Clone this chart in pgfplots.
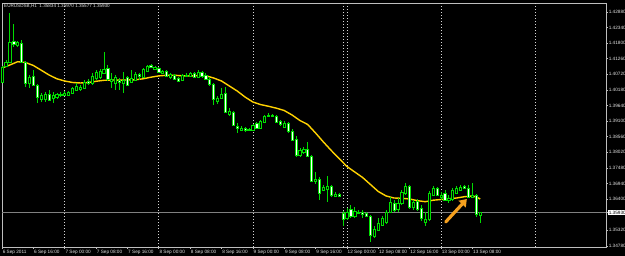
\documentclass[border=0pt]{standalone}
\usepackage{fontspec}
\setmainfont{Liberation Sans}
\usepackage{pgfplots}
\usepackage{pgfplotstable}
\pgfplotsset{compat=1.18}
\usetikzlibrary{arrows.meta}
\definecolor{cgreen}{RGB}{0,220,0}
\definecolor{maline}{RGB}{255,210,0}
\definecolor{framegray}{RGB}{190,190,190}
\definecolor{sepgray}{RGB}{215,215,215}
\definecolor{bidgray}{RGB}{128,128,128}
\definecolor{lblgray}{RGB}{225,225,225}
\definecolor{arroworange}{RGB}{245,160,30}
\newcommand\lbl{\fontsize{4.7}{5.6}\selectfont}
\newcommand\hdr{\fontsize{4.6}{5.5}\selectfont}

\pgfdeclareplotmark{candle}{%
  \pgfpathmoveto{\pgfpoint{0pt}{\candleL pt}}%
  \pgfpathlineto{\pgfpoint{0pt}{\candleH pt}}%
  \pgfusepath{stroke}%
  \pgfpathrectanglecorners{\pgfpoint{-1.1pt}{0pt}}{\pgfpoint{1.1pt}{\candleC pt}}%
  \pgfusepath{fill,stroke}%
}

\pgfplotstableread{
i O H L C
-16 1.40457 1.41010 1.40422 1.40976
-15 1.41010 1.41218 1.40976 1.41149
-14 1.41149 1.42845 1.41114 1.41841
-12 1.41737 1.41876 1.41668 1.41841
-9 1.40422 1.40699 1.40249 1.40630
-6 1.39868 1.40076 1.39764 1.40007
-5 1.39868 1.40111 1.39764 1.40041
-3 1.39903 1.40111 1.39730 1.40007
-2 1.39937 1.40076 1.39868 1.40041
0 1.40007 1.40145 1.39972 1.40076
1 1.40007 1.40145 1.39972 1.40111
2 1.40076 1.40284 1.40041 1.40249
3 1.40180 1.40422 1.40145 1.40318
4 1.40214 1.40353 1.40145 1.40284
5 1.40249 1.40526 1.40214 1.40457
7 1.40422 1.40768 1.40353 1.40664
8 1.40595 1.40872 1.40526 1.40803
9 1.40630 1.40907 1.40560 1.40837
10 1.40768 1.41495 1.40734 1.40907
12 1.40491 1.40768 1.40249 1.40560
13 1.40422 1.40699 1.40180 1.40630
15 1.40422 1.40803 1.40076 1.40526
17 1.40457 1.40872 1.40422 1.40595
18 1.40526 1.40803 1.40491 1.40734
20 1.40630 1.40941 1.40595 1.40907
21 1.40837 1.41045 1.40803 1.41010
23 1.40907 1.41010 1.40872 1.40976
25 1.40768 1.40872 1.40734 1.40837
27 1.40630 1.40768 1.40560 1.40734
30 1.40526 1.40734 1.40491 1.40699
31 1.40664 1.40768 1.40630 1.40699
32 1.40664 1.40803 1.40630 1.40768
34 1.40630 1.40872 1.40595 1.40803
39 1.39799 1.39972 1.39695 1.39903
40 1.39903 1.40249 1.39868 1.40041
42 1.39349 1.39557 1.39280 1.39453
45 1.38795 1.38934 1.38761 1.38864
47 1.38795 1.38864 1.38761 1.38830
48 1.38795 1.39003 1.38761 1.38968
50 1.38864 1.39141 1.38830 1.39107
51 1.39072 1.39314 1.39037 1.39280
52 1.39280 1.39384 1.39245 1.39314
56 1.38899 1.39107 1.38864 1.39037
60 1.37930 1.38172 1.37861 1.38103
61 1.38034 1.38207 1.37964 1.38138
64 1.37030 1.37341 1.36926 1.37099
66 1.36718 1.36891 1.36684 1.36822
67 1.36753 1.37203 1.36303 1.36857
69 1.36511 1.36649 1.36476 1.36580
72 1.35749 1.36095 1.35680 1.35957
74 1.35818 1.36130 1.35749 1.35991
75 1.35922 1.36026 1.35888 1.35957
79 1.35126 1.35472 1.35057 1.35368
80 1.35334 1.35749 1.35299 1.35576
81 1.35507 1.35818 1.35472 1.35749
82 1.35611 1.36026 1.35541 1.35957
83 1.35957 1.36476 1.35922 1.36303
85 1.36061 1.36441 1.35957 1.36268
86 1.36268 1.36718 1.36199 1.36649
87 1.36614 1.36961 1.36545 1.36857
89 1.36130 1.36372 1.36026 1.36303
92 1.35611 1.35957 1.35472 1.35715
93 1.35715 1.36684 1.35645 1.36614
94 1.36545 1.36857 1.36511 1.36788
96 1.36476 1.36649 1.36372 1.36545
98 1.36372 1.36545 1.36268 1.36441
99 1.36407 1.36788 1.36338 1.36718
100 1.36614 1.36857 1.36580 1.36788
101 1.36718 1.36891 1.36684 1.36822
104 1.36476 1.36961 1.36441 1.36545
106 1.35834 1.35970 1.35577 1.35930
}\bulls

\pgfplotstableread{
i O H L C
-13 1.41876 1.42464 1.41668 1.41772
-11 1.41807 1.41910 1.41114 1.41149
-10 1.41149 1.41184 1.40284 1.40422
-8 1.40664 1.40872 1.40318 1.40353
-7 1.40353 1.40387 1.39730 1.39937
-4 1.40041 1.40180 1.39799 1.39834
-1 1.40041 1.40111 1.39937 1.40007
6 1.40491 1.40560 1.40353 1.40422
11 1.40941 1.41045 1.40491 1.40560
14 1.40526 1.40595 1.40180 1.40457
16 1.40630 1.40664 1.40318 1.40353
19 1.40734 1.40768 1.40526 1.40664
22 1.41045 1.41080 1.40941 1.40976
24 1.40941 1.40976 1.40768 1.40803
26 1.40837 1.40872 1.40630 1.40664
28 1.40699 1.40734 1.40526 1.40560
29 1.40595 1.40630 1.40457 1.40491
33 1.40768 1.40803 1.40595 1.40630
35 1.40803 1.40837 1.40595 1.40664
36 1.40699 1.40768 1.40526 1.40560
37 1.40560 1.40630 1.40318 1.40387
38 1.40387 1.40422 1.39661 1.39868
41 1.40076 1.40284 1.39384 1.39418
43 1.39418 1.39453 1.38934 1.38968
44 1.38934 1.39037 1.38691 1.38864
46 1.38864 1.38899 1.38726 1.38795
49 1.39037 1.39072 1.38830 1.38864
53 1.39314 1.39349 1.39245 1.39280
54 1.39280 1.39314 1.39037 1.39072
55 1.39107 1.39141 1.38934 1.39003
57 1.39037 1.39072 1.38691 1.38761
58 1.38761 1.38830 1.38414 1.38449
59 1.38484 1.38587 1.37861 1.37930
62 1.38138 1.38380 1.37861 1.37895
63 1.37895 1.37930 1.36995 1.37030
65 1.37099 1.37168 1.36372 1.36614
68 1.36857 1.36891 1.36476 1.36545
70 1.36580 1.36614 1.36476 1.36511
71 1.35922 1.35991 1.35472 1.35715
73 1.36061 1.36199 1.35749 1.35818
76 1.35957 1.36026 1.35749 1.35888
77 1.35922 1.35957 1.35784 1.35818
78 1.35818 1.35853 1.34918 1.35161
84 1.36268 1.36372 1.35957 1.36026
88 1.36857 1.36891 1.36061 1.36130
90 1.36338 1.36407 1.35991 1.36061
91 1.36095 1.36199 1.35645 1.35749
95 1.36788 1.36822 1.36511 1.36545
97 1.36614 1.36718 1.36338 1.36372
102 1.36857 1.36891 1.36753 1.36788
103 1.36788 1.36891 1.36441 1.36476
105 1.36545 1.36580 1.35784 1.35888
}\bears

\pgfplotstableread{
i M
-16 1.40941
-14 1.41045
-12 1.41159
-10 1.41132
-8 1.41028
-6 1.40865
-4 1.40699
-2 1.40567
0 1.40491
2 1.40439
4 1.40422
6 1.40436
8 1.40481
10 1.40515
12 1.40526
14 1.40519
16 1.40526
18 1.40533
20 1.40567
22 1.40623
24 1.40668
26 1.40689
28 1.40689
30 1.40671
32 1.40664
34 1.40675
36 1.40671
38 1.40595
40 1.40491
42 1.40318
44 1.40145
46 1.39937
48 1.39764
50 1.39674
52 1.39616
54 1.39550
56 1.39470
58 1.39314
60 1.39124
62 1.38986
64 1.38691
66 1.38380
68 1.38086
70 1.37809
72 1.37532
74 1.37341
76 1.37151
78 1.36909
80 1.36666
82 1.36511
84 1.36441
86 1.36431
88 1.36407
90 1.36348
92 1.36313
94 1.36365
96 1.36389
98 1.36414
100 1.36441
102 1.36486
104 1.36511
105 1.36476
106 1.36407
}\ma

\begin{document}
\begin{tikzpicture}
\fill[black] (0,0) rectangle (625pt,256pt);
\useasboundingbox (0,0) rectangle (625pt,256pt);
\begin{axis}[
  at={(2pt,9pt)}, anchor=south west,
  scale only axis, width=604pt, height=244pt,
  xmin=-16.0, xmax=138.1, ymin=1.34745, ymax=1.43191,
  axis line style={framegray, line width=0.8pt},
  tick align=outside, major tick length=2pt,
  tick style={framegray, line width=0.6pt},
  xtick pos=left, ytick pos=right, yticklabel pos=right,
  xtick={-16,-8,0,8,16,24,32,40,48,56,64,72,80,88,96,104},
  xticklabels={6 Sep 2011, 6 Sep 16:00, 7 Sep 00:00, 7 Sep 08:00, 7 Sep 16:00, 8 Sep 00:00, 8 Sep 08:00, 8 Sep 16:00, 9 Sep 00:00, 9 Sep 08:00, 9 Sep 16:00, 12 Sep 00:00, 12 Sep 08:00, 12 Sep 16:00, 13 Sep 00:00, 13 Sep 08:00},
  ytick={1.3478,1.3532,1.3640,1.3694,1.3748,1.3802,1.3856,1.3910,1.3964,1.4018,1.4072,1.4126,1.4180,1.4234,1.4288},
  yticklabels={1.34780,1.35320,1.36400,1.36940,1.37480,1.38020,1.38560,1.39100,1.39640,1.40180,1.40720,1.41260,1.41800,1.42340,1.42880},
  tick label style={font=\lbl, text=lblgray, inner sep=0.6pt},
  xticklabel style={anchor=west, yshift=-3pt},
  yticklabel style={anchor=west},
  extra x ticks={0,24,48,71,72,96,120},
  extra x tick labels={},
  extra x tick style={grid=major, major grid style={sepgray, line width=0.6pt, dash pattern=on 1pt off 2pt}, major tick length=0pt},
  extra y ticks={1.3593},
  extra y tick labels={1.35930},
  extra y tick style={grid=major, major grid style={bidgray, line width=0.7pt}, yticklabel style={fill=white, text=black}},
]
\addplot[scatter, only marks, mark=candle, point meta=y,
  scatter/use mapped color={draw=cgreen, fill=black, line width=0.7pt},
  visualization depends on={(\thisrow{L}-\thisrow{O})*2889 \as \candleL},
  visualization depends on={(\thisrow{H}-\thisrow{O})*2889 \as \candleH},
  visualization depends on={(\thisrow{C}-\thisrow{O})*2889 \as \candleC}]
  table[x=i, y=O] {\bulls};
\addplot[scatter, only marks, mark=candle, point meta=y,
  scatter/use mapped color={draw=cgreen, fill=white, line width=0.7pt},
  visualization depends on={(\thisrow{L}-\thisrow{O})*2889 \as \candleL},
  visualization depends on={(\thisrow{H}-\thisrow{O})*2889 \as \candleH},
  visualization depends on={(\thisrow{C}-\thisrow{O})*2889 \as \candleC}]
  table[x=i, y=O] {\bears};
\addplot[maline, line width=1.4pt, no marks] table[x=i, y=M] {\ma};
\draw[arroworange, line width=3.2pt, line cap=round, -{Triangle[width=9.5pt,length=7pt]}] (axis cs:97.2,1.35611) -- (axis cs:102.6,1.36407);
\end{axis}
\node[anchor=base west, inner sep=0, text=lblgray, font=\hdr] at (4pt,248.6pt) {EURUSDSB,H1\ \ 1.35834 1.35970 1.35577 1.35930};
\end{tikzpicture}
\end{document}
